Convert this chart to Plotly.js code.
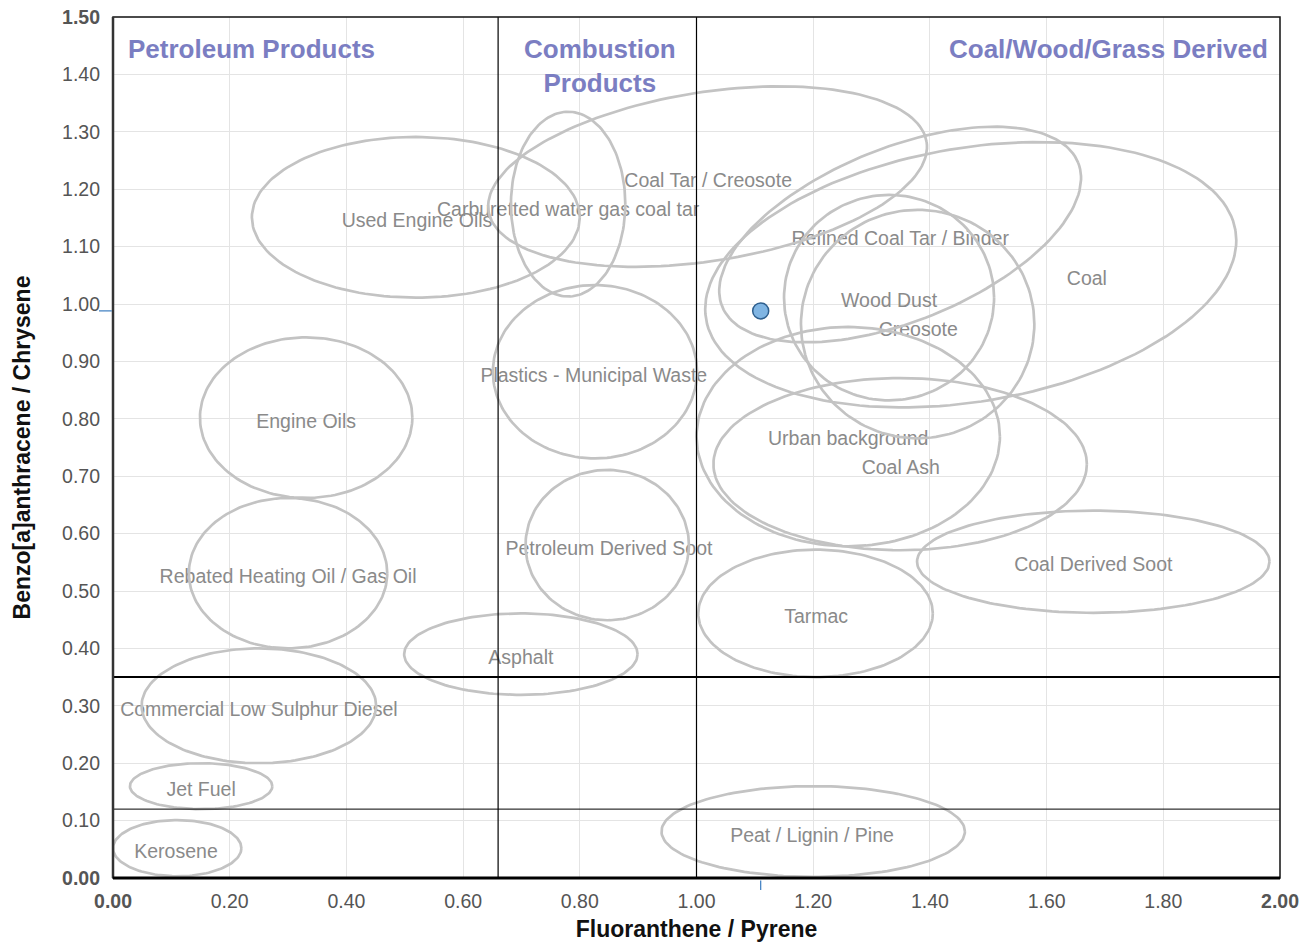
<!DOCTYPE html>
<html>
<head>
<meta charset="utf-8">
<script src="https://cdn.plot.ly/plotly-3.0.1.min.js"></script>
<style>html,body{margin:0;padding:0;background:#fff;}#chart{width:1315px;height:942px;}</style>
</head>
<body>
<div id="chart"></div>
<script>
// ---- Data ----
const ellipseNames = ["Kerosene","Jet Fuel","Commercial Low Sulphur Diesel","Rebated Heating Oil / Gas Oil","Engine Oils","Used Engine Oils","Carburetted water gas coal tar","Coal Tar / Creosote","Refined Coal Tar / Binder","Coal","Wood Dust","Creosote","Plastics - Municipal Waste","Urban background","Coal Ash","Petroleum Derived Soot","Coal Derived Soot","Tarmac","Asphalt","Peat / Lignin / Pine"];
const ellipseCX = [0.110,0.151,0.250,0.300,0.331,0.519,0.780,1.019,1.349,1.470,1.330,1.379,0.826,1.260,1.349,0.847,1.680,1.204,0.699,1.200];
const ellipseCY = [0.052,0.160,0.300,0.531,0.802,1.151,1.174,1.222,1.121,1.051,1.011,0.965,0.882,0.769,0.721,0.580,0.551,0.461,0.390,0.081];
const ellipseA  = [0.110,0.122,0.201,0.170,0.182,0.281,0.098,0.380,0.329,0.460,0.180,0.200,0.175,0.260,0.320,0.140,0.302,0.201,0.200,0.260];
const ellipseB  = [0.049,0.040,0.100,0.131,0.140,0.140,0.161,0.147,0.151,0.221,0.179,0.199,0.151,0.191,0.150,0.131,0.089,0.111,0.071,0.079];
const ellipseAngle = [0,0,0,0,0,0,0,9,22,9.5,0,0,0,0,0,0,0,0,0,0];
const labelX = [0.108,0.151,0.250,0.300,0.331,0.521,0.780,1.020,1.349,1.669,1.330,1.380,0.824,1.260,1.350,0.850,1.680,1.205,0.699,1.198];
const labelY = [0.044,0.152,0.291,0.523,0.793,1.143,1.161,1.213,1.112,1.042,1.004,0.953,0.872,0.762,0.713,0.572,0.544,0.453,0.382,0.072];
const sampleX = [1.11];
const sampleY = [0.988];
const dividerX = [0.66, 1.00];
const dividerY = [0.35, 0.12];
const dividerYWidth = [2, 1];
const xTickVals = [0,0.2,0.4,0.6,0.8,1.0,1.2,1.4,1.6,1.8,2.0];
const yTickVals = [0,0.1,0.2,0.3,0.4,0.5,0.6,0.7,0.8,0.9,1.0,1.1,1.2,1.3,1.4,1.5];
const regionLabels = ["Petroleum Products","Combustion<br>Products","Coal/Wood/Grass Derived"];

// ---- Layout geometry ----
const W = 1315, H = 942;
const M = {l:113, r:35, t:17, b:64};
const pxX = (W - M.l - M.r) / 2.0;   // px per x unit
const pxY = (H - M.t - M.b) / 1.5;   // px per y unit

function fmt(v){ return v.toFixed(2); }
function tickText(vals){
  return vals.map((v,i)=> (i===0||i===vals.length-1) ? '<b>'+fmt(v)+'</b>' : fmt(v));
}

// ellipse outlines
const ex = [], ey = [];
const N = 160;
for (let i = 0; i < ellipseNames.length; i++) {
  const th = ellipseAngle[i] * Math.PI / 180;
  const c = Math.cos(th), s = Math.sin(th);
  const a = ellipseA[i] * pxX, b = ellipseB[i] * pxY;
  for (let k = 0; k <= N; k++) {
    const t = 2 * Math.PI * k / N;
    const u = a * Math.cos(t), v = b * Math.sin(t);
    ex.push(ellipseCX[i] + (u * c - v * s) / pxX);
    ey.push(ellipseCY[i] + (u * s + v * c) / pxY);
  }
  ex.push(null); ey.push(null);
}

const FONT = "Arial, 'Liberation Sans', sans-serif";

const traces = [
  {
    type:'scatter', mode:'text', x:labelX, y:labelY, text:ellipseNames,
    textfont:{family:FONT, size:19.5, color:'#8a8a8a'}, textposition:'middle center',
    hoverinfo:'skip', showlegend:false, cliponaxis:false
  },
  {
    type:'scatter', mode:'lines', x:ex, y:ey,
    line:{color:'#c3c3c3', width:2.7}, hoverinfo:'skip', showlegend:false
  },
  {
    type:'scatter', mode:'markers', x:sampleX, y:sampleY,
    marker:{size:16, color:'#80b5e3', line:{color:'#2e5f8e', width:1.5}},
    showlegend:false, hoverinfo:'x+y', cliponaxis:false
  }
];

const shapes = [];
dividerX.forEach(v => shapes.push({type:'line', xref:'x', yref:'paper', x0:v, x1:v, y0:0, y1:1, line:{color:'#000', width:1.2}, layer:'above'}));
dividerY.forEach((v,i) => shapes.push({type:'line', xref:'paper', yref:'y', x0:0, x1:1, y0:v, y1:v, line:{color:'#000', width:dividerYWidth[i]}, layer:'above'}));
// frame
shapes.push({type:'rect', xref:'paper', yref:'paper', x0:0, x1:1, y0:0, y1:1, line:{color:'#111', width:1.5}, layer:'above'});
shapes.push({type:'line', xref:'paper', yref:'paper', x0:0, x1:0, y0:0, y1:1, line:{color:'#333', width:2.5}, layer:'above'});
shapes.push({type:'line', xref:'paper', yref:'paper', x0:0, x1:1, y0:0, y1:0, line:{color:'#000', width:3}, layer:'above'});
// sample spike ticks on axes
sampleX.forEach(v => shapes.push({type:'line', xref:'x', yref:'paper', x0:v, x1:v, y0:-0.003, y1:-0.014, line:{color:'#3a7cc0', width:1.2}}));
sampleY.forEach(v => shapes.push({type:'line', xref:'paper', yref:'y', x0:-0.012, x1:-0.001, y0:v, y1:v, line:{color:'#3a7cc0', width:1.2}}));

const regionFont = {family:FONT, size:26, color:'#7b7ec2'};
const annotations = [
  {xref:'x', yref:'y', x:0.022, y:1.444, text:'<b>'+regionLabels[0]+'</b>', showarrow:false, xanchor:'left', yanchor:'middle', font:regionFont},
  {xref:'x', yref:'y', x:0.835, y:1.415, text:'<b>'+regionLabels[1]+'</b>', showarrow:false, xanchor:'center', yanchor:'middle', font:regionFont, align:'center'},
  {xref:'x', yref:'y', x:1.983, y:1.444, text:'<b>'+regionLabels[2]+'</b>', showarrow:false, xanchor:'right', yanchor:'middle', font:regionFont}
];

const layout = {
  width:W, height:H,
  margin:M,
  paper_bgcolor:'#fff', plot_bgcolor:'#fff',
  showlegend:false,
  font:{family:FONT},
  xaxis:{
    range:[0,2], fixedrange:true, zeroline:false, showline:false,
    tickmode:'array', tickvals:xTickVals, ticktext:tickText(xTickVals),
    tickfont:{family:FONT, size:19.5, color:'#555'},
    showgrid:true, gridcolor:'#e4e4e4', gridwidth:1,
    ticks:'', ticklabelstandoff:9,
    title:{text:'<b>Fluoranthene / Pyrene</b>', font:{family:FONT, size:23, color:'#111'}, standoff:10}
  },
  yaxis:{
    range:[0,1.5], fixedrange:true, zeroline:false, showline:false,
    tickmode:'array', tickvals:yTickVals, ticktext:tickText(yTickVals),
    tickfont:{family:FONT, size:19.5, color:'#555'},
    showgrid:true, gridcolor:'#e4e4e4', gridwidth:1,
    ticks:'', ticklabelstandoff:12,
    title:{text:'<b>Benzo[a]anthracene / Chrysene</b>', font:{family:FONT, size:23, color:'#111'}, standoff:24}
  },
  shapes:shapes,
  annotations:annotations
};

Plotly.newPlot('chart', traces, layout, {displayModeBar:false, staticPlot:false});
</script>
</body>
</html>
